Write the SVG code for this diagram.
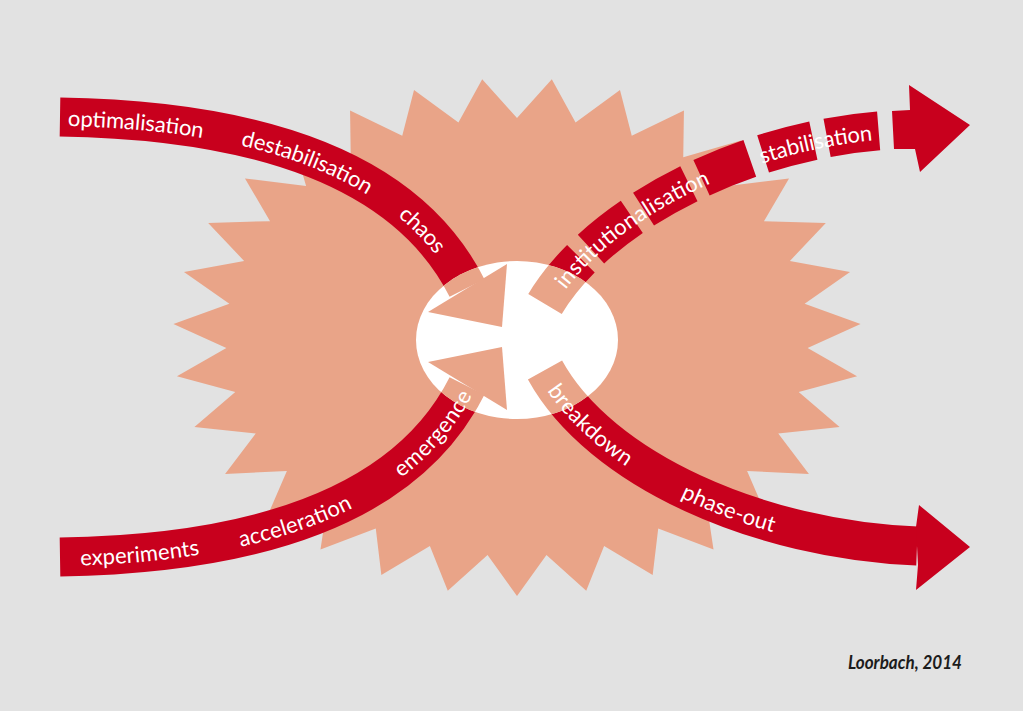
<svg xmlns="http://www.w3.org/2000/svg" width="1023" height="711" viewBox="0 0 1023 711">
<style>
.band{fill:none;stroke:currentColor;stroke-width:39;stroke-linecap:butt}
.dash{stroke-dasharray:58 14 52 14 52 14 52 14 52 14 52 100}
.head{fill:currentColor;stroke:none}
.lbl{font-family:Lato,"Open Sans","Liberation Sans",sans-serif;font-size:22px;fill:#ffffff;dominant-baseline:central}
.credit{font-family:Lato,"Liberation Sans",sans-serif;font-size:18px;font-style:italic;font-weight:bold;fill:#1c1c1c}
</style>
<defs>
<path id="pChaos" d="M60,117 C250,120 405,165 467,288"/>
<path id="pEmer" d="M60,557 C250,554 405,509 467,386"/>
<path id="pBreak" d="M545,370 C600,470 760,540 917,546"/>
<path id="pInst" d="M545,304 C600,212 750,137 893,130"/>
<clipPath id="inEllipse"><ellipse cx="517" cy="340" rx="101" ry="79"/></clipPath>
<mask id="outEllipse" maskUnits="userSpaceOnUse" x="0" y="0" width="1023" height="711">
<rect width="1023" height="711" fill="#fff"/>
<ellipse cx="517" cy="340" rx="101" ry="79" fill="#000"/>
</mask>
<g id="arrowShapes">
<use href="#pChaos" class="band"/>
<use href="#pEmer" class="band"/>
<use href="#pBreak" class="band"/>
<use href="#pInst" class="band dash"/>
<polygon class="head" points="507,264 502,327 428,312"/>
<polygon class="head" points="507,410 502,347 428,362"/>
<polygon class="head" points="916,527 919,505 970,547 916,590 918,565"/>
<polygon class="head" points="892,111 910,110 909,85 970,125 920,172 915,149 894,149"/>
</g>
</defs>
<rect width="1023" height="711" fill="#e2e2e2"/>
<g id="starburst">
<polygon fill="#e9a488" points="517,596 487.56,554.88 447.77,590.7 429.89,545.96 381.34,575.01 375.78,528.48 320.48,549.58 327.45,503.17 267.67,515.44 286.88,471.05 225.07,474 255.75,433.46 194.41,426.95 235.29,391.89 176.97,376.22 226.37,348.09 173.44,323.88 229.36,303.84 183.98,272.08 244.11,260.94 208.17,222.92 270.05,221.16 244.97,178.47 306.09,186.12 292.93,140.48 350.76,157.25 350.06,110.54 402.24,135.75 414.02,89.88 458.43,122.48 482.2,79.33 517,118 551.8,79.33 575.57,122.48 619.98,89.88 631.76,135.75 683.94,110.54 683.24,157.25 741.07,140.48 727.91,186.12 789.03,178.47 763.95,221.16 825.83,222.92 789.89,260.94 850.02,272.08 804.64,303.84 860.56,323.88 807.63,348.09 857.03,376.22 798.71,391.89 839.59,426.95 778.25,433.46 808.93,474 747.12,471.05 766.33,515.44 706.55,503.17 713.52,549.58 658.22,528.48 652.66,575.01 604.11,545.96 586.23,590.7 546.44,554.88"/>
</g>
<g id="center">
<ellipse cx="517" cy="340" rx="101" ry="79" fill="#ffffff"/>
</g>
<g id="connectors">
<use href="#arrowShapes" style="color:#c8001d" mask="url(#outEllipse)"/>
<use href="#arrowShapes" style="color:#e9a488" clip-path="url(#inEllipse)"/>
</g>
<g id="labels" class="lbl">
<text><textPath href="#pChaos" startOffset="8">optimalisation</textPath></text>
<text><textPath href="#pChaos" startOffset="184">destabilisation</textPath></text>
<text><textPath href="#pChaos" startOffset="362">chaos</textPath></text>
<text><textPath href="#pEmer" startOffset="20">experiments</textPath></text>
<text><textPath href="#pEmer" startOffset="180">acceleration</textPath></text>
<text><textPath href="#pEmer" startOffset="352">emergence</textPath></text>
<text><textPath href="#pBreak" startOffset="18">breakdown</textPath></text>
<text><textPath href="#pBreak" startOffset="186">phase-out</textPath></text>
<text><textPath href="#pInst" startOffset="24" textLength="186" lengthAdjust="spacing">institutionalisation</textPath></text>
<text><textPath href="#pInst" startOffset="266">stabilisation</textPath></text>
</g>
<g id="credit">
<text class="credit" x="848" y="669" textLength="114" lengthAdjust="spacingAndGlyphs">Loorbach, 2014</text>
</g>
</svg>
